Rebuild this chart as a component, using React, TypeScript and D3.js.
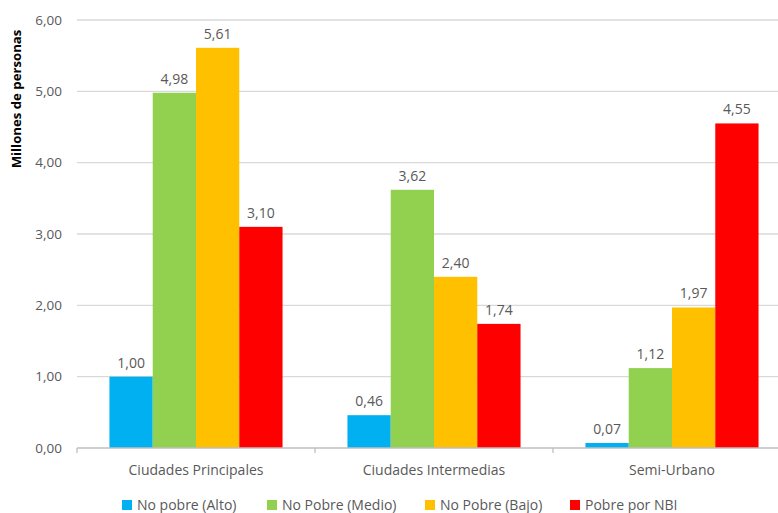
import React from "react";
import * as d3 from "d3";

const categories = ["Ciudades Principales", "Ciudades Intermedias", "Semi-Urbano"];
const seriesNames = ["No pobre (Alto)", "No Pobre (Medio)", "No Pobre (Bajo)", "Pobre por NBI"];
const seriesColors = ["#00b0f0", "#92d050", "#ffc000", "#ff0000"];
const noPobreAlto = [1.0, 0.46, 0.07];
const noPobreMedio = [4.98, 3.62, 1.12];
const noPobreBajo = [5.61, 2.4, 1.97];
const pobreNBI = [3.1, 1.74, 4.55];
const yTicks = [0, 1, 2, 3, 4, 5, 6];
const yLabel = "Millones de personas";

const seriesValues = [noPobreAlto, noPobreMedio, noPobreBajo, pobreNBI];

const W = 778;
const H = 513;
const FONT = "'Open Sans', 'Liberation Sans', sans-serif";
const TEXT = "#595959";

const fmt = (v: number) => v.toFixed(2).replace(".", ",");

export default function App() {
  const x0 = d3.scaleBand<string>().domain(categories).range([77, 791]).paddingInner(0).paddingOuter(0);
  const x1 = d3
    .scaleBand<string>()
    .domain(seriesNames)
    .range([0, x0.bandwidth()])
    .paddingInner(0)
    .paddingOuter(0.75);
  const y = d3.scaleLinear().domain([0, 6]).range([448, 20]);

  const boundaries = [...categories.map((c) => x0(c)!), x0(categories[categories.length - 1])! + x0.bandwidth()];

  const legendX = [122, 267, 425, 570];

  return (
    <div style={{ position: "absolute", left: 0, top: 0 }}>
      <svg width={W} height={H} style={{ display: "block", background: "#fff" }}>
        {/* horizontal gridlines */}
        {yTicks.slice(1).map((t) => (
          <line key={t} x1={77} x2={W} y1={y(t)} y2={y(t)} stroke="#d9d9d9" strokeWidth={1.3} />
        ))}
        {/* y tick labels */}
        {yTicks.map((t) => (
          <text key={t} x={62} y={y(t)} dy="0.35em" textAnchor="end" fontSize={13.5} fill={TEXT} fontFamily={FONT}>
            {fmt(t)}
          </text>
        ))}
        {/* y axis title */}
        <text
          transform={`translate(21,99) rotate(-90)`}
          textAnchor="middle"
          fontSize={13.2}
          fontWeight="bold"
          fill="#000"
          fontFamily={FONT}
        >
          {yLabel}
        </text>
        {/* bars */}
        {categories.map((c, ci) => (
          <g key={c} transform={`translate(${x0(c)},0)`}>
            {seriesNames.map((s, si) => {
              const v = seriesValues[si][ci];
              const bx = x1(s)!;
              return (
                <g key={s}>
                  <rect x={bx} y={y(v)} width={x1.bandwidth()} height={y(0) - y(v)} fill={seriesColors[si]} />
                  <text
                    x={bx + x1.bandwidth() / 2}
                    y={y(v) - 9}
                    textAnchor="middle"
                    fontSize={14}
                    fill={TEXT}
                    fontFamily={FONT}
                  >
                    {fmt(v)}
                  </text>
                </g>
              );
            })}
          </g>
        ))}
        {/* x axis */}
        <line x1={77} x2={W} y1={y(0)} y2={y(0)} stroke="#bfbfbf" strokeWidth={1.3} />
        {boundaries.map((b, i) => (
          <line key={i} x1={b} x2={b} y1={y(0)} y2={y(0) + 5} stroke="#bfbfbf" strokeWidth={1.3} />
        ))}
        {categories.map((c) => (
          <text
            key={c}
            x={x0(c)! + x0.bandwidth() / 2}
            y={470}
            dy="0.35em"
            textAnchor="middle"
            fontSize={14}
            fill={TEXT}
            fontFamily={FONT}
          >
            {c}
          </text>
        ))}
        {/* legend */}
        {seriesNames.map((s, i) => (
          <g key={s} transform={`translate(${legendX[i]},500)`}>
            <rect x={0} y={0} width={10} height={10} fill={seriesColors[i]} />
            <text x={15} y={5} dy="0.35em" fontSize={14} fill={TEXT} fontFamily={FONT}>
              {s}
            </text>
          </g>
        ))}
      </svg>
    </div>
  );
}
